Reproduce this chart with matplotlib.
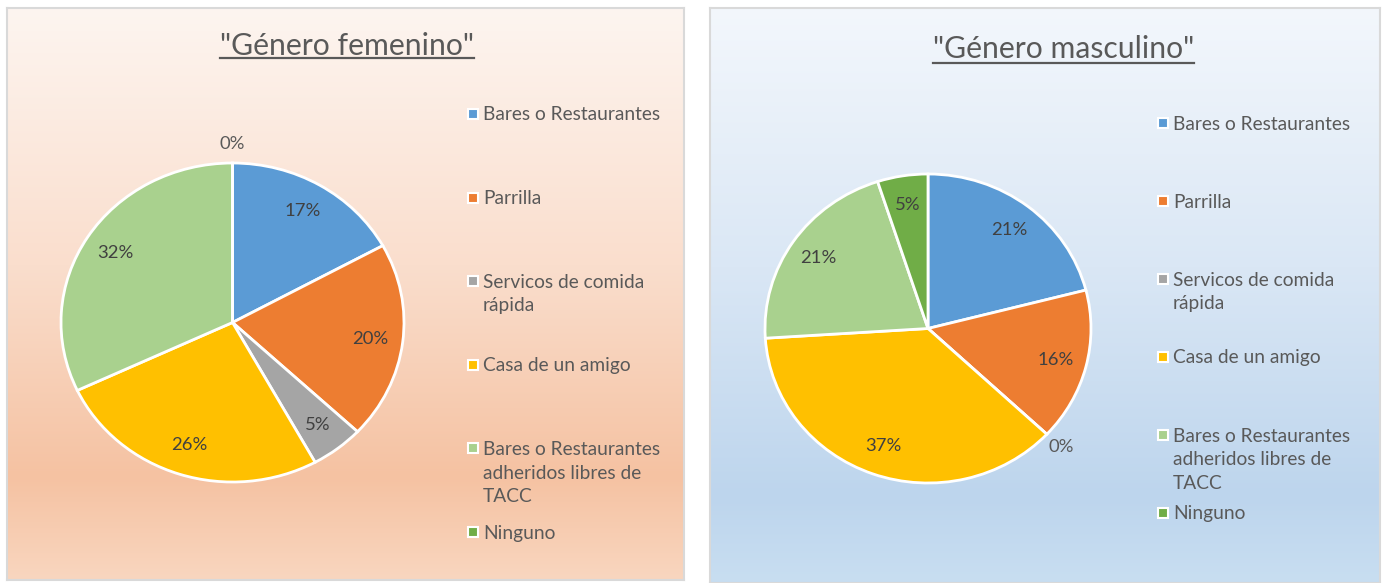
import numpy as np
import matplotlib
matplotlib.use("Agg")
import matplotlib.pyplot as plt
from matplotlib.patches import Rectangle
from matplotlib.lines import Line2D
from matplotlib.colors import LinearSegmentedColormap

plt.rcParams['font.family'] = ['Lato', 'DejaVu Sans']

categories = ["Bares o Restaurantes", "Parrilla", "Servicos de comida\nrápida",
              "Casa de un amigo", "Bares o Restaurantes\nadheridos libres de\nTACC", "Ninguno"]
colors = ["#5B9BD5", "#ED7D31", "#A5A5A5", "#FFC000", "#A9D18E", "#70AD47"]
fem_values = [17, 20, 5, 26, 32, 0]
masc_values = [21, 16, 0, 37, 21, 5]
titles = ['"Género femenino"', '"Género masculino"']

W, H = 1384, 583
fig = plt.figure(figsize=(W / 100, H / 100), dpi=100)
fig.patch.set_facecolor("white")

def fx(x):
    return x / W

def fy(y):
    return 1 - y / H

panels = [
    dict(box=(7, 8, 684, 580),
         grad=[(0, (253, 245, 240)), (0.45, (250, 222, 205)), (0.82, (245, 194, 162)), (1, (249, 214, 191))],
         pie=(232.5, 322.5, 171.5, 159.5), values=fem_values, title=titles[0],
         title_x=347, title_base=55, ul_y=58,
         leg_x=466, leg_y0=114, leg_dy=83.6),
    dict(box=(710, 8, 1380, 583),
         grad=[(0, (243, 247, 252)), (0.45, (218, 231, 245)), (0.85, (189, 213, 237)), (1, (200, 222, 241))],
         pie=(928, 328.5, 163, 154.5), values=masc_values, title=titles[1],
         title_x=1063.5, title_base=58, ul_y=63,
         leg_x=1156, leg_y0=123, leg_dy=78),
]

renderer = fig.canvas.get_renderer()

for p in panels:
    x0, y0, x1, y1 = p["box"]
    bg = fig.add_axes([fx(x0), fy(y1), fx(x1 - x0), (y1 - y0) / H], zorder=0)
    stops = [(s, tuple(c / 255 for c in col)) for s, col in p["grad"]]
    cmap = LinearSegmentedColormap.from_list("g", stops)
    grad = np.linspace(0, 1, 256).reshape(-1, 1)
    bg.imshow(grad, cmap=cmap, aspect="auto", extent=[0, 1, 0, 1], origin="upper")
    bg.set_xlim(0, 1); bg.set_ylim(0, 1)
    bg.set_xticks([]); bg.set_yticks([])
    for s in bg.spines.values():
        s.set_color("#D9D9D9"); s.set_linewidth(1.5)

    cx, cy, rx, ry = p["pie"]
    ax = fig.add_axes([fx(cx - rx), fy(cy + ry), 2 * rx / W, 2 * ry / H], zorder=2)
    ax.patch.set_alpha(0)
    wedges, texts, autotexts = ax.pie(
        p["values"], colors=colors, startangle=90, counterclock=False,
        autopct="%1.0f%%", pctdistance=0.81, radius=1,
        wedgeprops=dict(edgecolor="white", linewidth=2),
        textprops=dict(color="#404040", fontsize=13.3))
    for v, w, t in zip(p["values"], wedges, autotexts):
        if v == 0:
            ang = np.deg2rad((w.theta1 + w.theta2) / 2)
            t.set_position((1.12 * np.cos(ang), 1.12 * np.sin(ang)))
            t.set_color("#595959")
    ax.set_aspect("auto")
    ax.set_xlim(-1, 1); ax.set_ylim(-1, 1)
    ax.axis("off")

    # title with underline
    t = fig.text(fx(p["title_x"]), fy(p["title_base"]), p["title"], ha="center", va="baseline",
                 fontsize=21.7, color="#595959", zorder=5)
    bb = t.get_window_extent(renderer=renderer)
    fig.add_artist(Line2D([bb.x0 / W, bb.x1 / W], [fy(p["ul_y"]), fy(p["ul_y"])],
                          color="#595959", linewidth=1.6, zorder=5))

    # legend
    for i, (lab, col) in enumerate(zip(categories, colors)):
        yc = p["leg_y0"] + i * p["leg_dy"]
        fig.add_artist(Rectangle((fx(p["leg_x"] + 2), fy(yc + 5)), 10 / W, 10 / H,
                                 facecolor=col, edgecolor="white", linewidth=1.5,
                                 transform=fig.transFigure, zorder=5))
        fig.text(fx(p["leg_x"] + 17), fy(yc - 7.5), lab, ha="left", va="top",
                 fontsize=13.8, color="#595959", linespacing=1.48, zorder=5)

fig.savefig("out.png", dpi=100)
